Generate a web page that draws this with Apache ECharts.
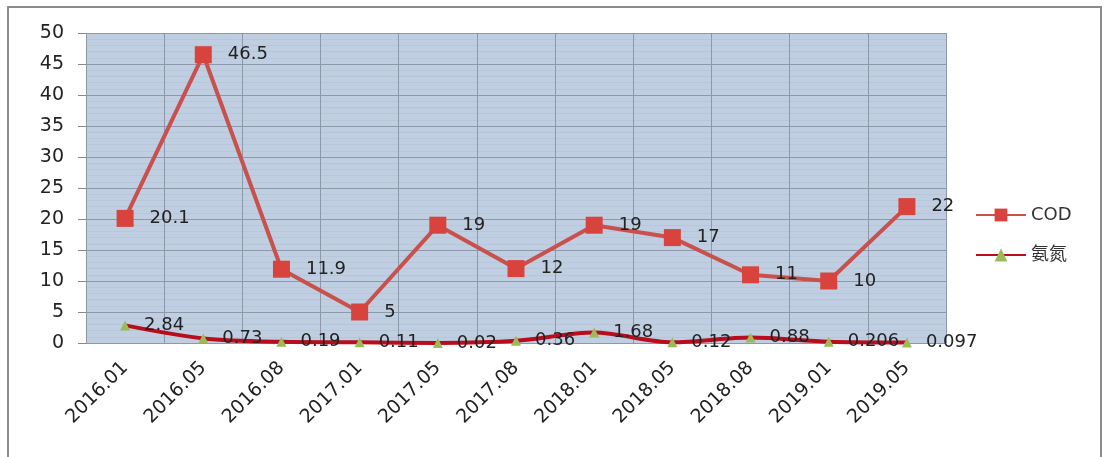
<!DOCTYPE html>
<html>
<head>
<meta charset="utf-8">
<script src="https://cdn.jsdelivr.net/npm/echarts@6/dist/echarts.min.js"></script>
<style>
  html, body { margin: 0; padding: 0; background: #fff; }
  #main { width: 1108px; height: 457px; }
</style>
</head>
<body>
<div id="main"></div>
<script>
var categories = ['2016.01', '2016.05', '2016.08', '2017.01', '2017.05', '2017.08',
    '2018.01', '2018.05', '2018.08', '2019.01', '2019.05'];
var codValues = [20.1, 46.5, 11.9, 5, 19, 12, 19, 17, 11, 10, 22];
var nh3Values = [2.84, 0.73, 0.19, 0.11, 0.02, 0.36, 1.68, 0.12, 0.88, 0.206, 0.097];
var seriesNames = ['COD', '氨氮'];

var font = '"DejaVu Sans", "Noto Sans CJK SC", sans-serif';

var option = {
    backgroundColor: '#fff',
    animation: false,
    graphic: [
        {
            type: 'rect',
            shape: { x: 8, y: 7, width: 1093, height: 452 },
            style: { fill: 'none', stroke: '#8c8c8c', lineWidth: 2 },
            z: -1
        }
    ],
    legend: {
        orient: 'vertical',
        left: 970,
        top: 201,
        itemWidth: 50,
        itemHeight: 16,
        itemGap: 22,
        textStyle: { fontSize: 18, color: '#333', fontFamily: font },
        data: seriesNames
    },
    grid: {
        left: 86,
        right: 162,
        top: 33,
        bottom: 114,
        show: true,
        backgroundColor: '#bfcfe1',
        borderWidth: 0
    },
    xAxis: {
        type: 'category',
        data: categories,
        boundaryGap: true,
        axisLine: { show: false },
        axisTick: { show: false },
        axisLabel: {
            rotate: 45,
            fontSize: 19,
            color: '#222',
            fontFamily: font,
            margin: 22,
            interval: 0
        },
        splitLine: { show: true, lineStyle: { color: '#8d99ab', width: 1 } }
    },
    yAxis: {
        type: 'value',
        min: 0,
        max: 50,
        interval: 5,
        axisLine: { show: false },
        axisTick: { show: true, length: 8, lineStyle: { color: '#888' } },
        axisLabel: { fontSize: 19, color: '#222', fontFamily: font, margin: 22 },
        splitLine: { show: true, lineStyle: { color: '#8d99ab', width: 1.2 } },
        minorTick: { show: false, splitNumber: 5 },
        minorSplitLine: { show: true, lineStyle: { color: '#b7c6d8', width: 1 } }
    },
    series: [
        {
            name: seriesNames[0],
            type: 'line',
            data: codValues,
            symbol: 'rect',
            symbolSize: 17,
            itemStyle: { color: '#d8433d' },
            lineStyle: { color: '#c8514d', width: 4 },
            label: {
                show: true,
                position: 'right',
                distance: 16,
                fontSize: 18,
                color: '#222',
                fontFamily: font
            },
            z: 3
        },
        {
            name: seriesNames[1],
            type: 'line',
            data: nh3Values,
            smooth: 0.3,
            symbol: 'triangle',
            symbolSize: 10,
            itemStyle: { color: '#9bbb59' },
            lineStyle: { color: '#b80d1c', width: 4 },
            label: {
                show: true,
                position: 'right',
                distance: 14,
                fontSize: 18,
                color: '#222',
                fontFamily: font
            },
            z: 4
        }
    ]
};

var myChart = echarts.init(document.getElementById('main'));
myChart.setOption(option);
</script>
</body>
</html>
